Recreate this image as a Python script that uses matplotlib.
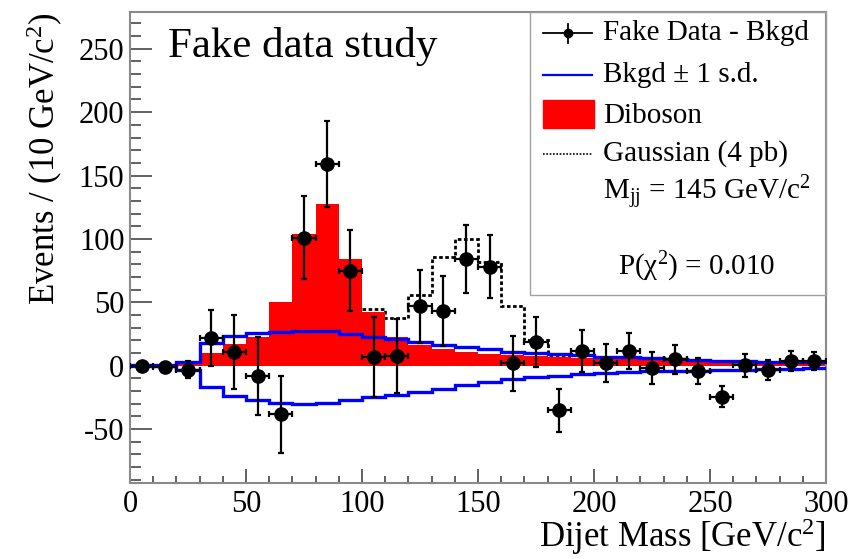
import numpy as np
import matplotlib
matplotlib.use("Agg")
import matplotlib.pyplot as plt
from matplotlib.lines import Line2D
from matplotlib.patches import Rectangle

plt.rcParams['font.family'] = ['Liberation Serif', 'DejaVu Serif']
plt.rcParams['mathtext.fontset'] = 'custom'
plt.rcParams['mathtext.rm'] = 'Liberation Serif'
plt.rcParams['mathtext.it'] = 'Liberation Serif:italic'
plt.rcParams['mathtext.bf'] = 'Liberation Serif:bold'
plt.rcParams['axes.unicode_minus'] = False

# ---------------- data ----------------
bin_edges = np.arange(0, 310, 10)
bin_centers = np.arange(5, 300, 10)

data_vals = [0, -1, -3, 21.6, 11, -8, -38.4, 101, 159.2, 75,
             7.1, 7.7, 47, 43.2, 84.2, 78.2, 1.9, 19, -35, 11.6,
             1.9, 11.6, -1.6, 5, -4.2, -24.5, 0.3, -3.4, 3.7, 3.7]
data_errs = [1.5, 2, 7, 22, 29, 30.5, 30.5, 32.6, 33.7, 32,
             31.6, 29.3, 28.7, 27.6, 26.8, 25, 21.6, 19.8, 17, 16.5,
             14.9, 13.9, 12.5, 11.7, 10, 8.4, 9, 7.9, 8, 7]

diboson = [0, 0, 3, 10, 17, 23, 50, 104, 127.5, 84,
           42, 23, 16.5, 13, 11, 9.5, 8.5, 7.5, 6.8, 6,
           5.4, 5, 4.6, 4.2, 3.8, 3.5, 3.2, 3.0, 2.8, 2.6]

gaussian_sig = [0, 0, 0, 0, 0, 0, 0, 0, 0, 0.3,
                2.5, 14.8, 39.3, 73, 88.8, 72.1, 38.6, 12.5, 1.6, 0.2,
                0, 0, 0, 0, 0, 0, 0, 0, 0, 0]

bkgd_up = [0.5, 0.5, 3.2, 17.7, 23.8, 25.6, 26.3, 27.1, 27.1, 24.8,
           22.9, 20.8, 18.5, 16.0, 14.8, 12.9, 11.0, 9.8, 8.9, 8.2,
           7.1, 6.5, 5.8, 5.0, 4.5, 4.0, 3.6, 3.2, 2.9, 2.6]
bkgd_dn = [-0.5, -0.5, -3.4, -17.0, -23.9, -27.0, -29.2, -30.2, -29.2, -27.0,
           -25.0, -22.8, -20.5, -18.0, -15.0, -12.6, -10.7, -9.2, -8.2, -6.8,
           -5.5, -4.8, -4.4, -4.1, -3.8, -3.4, -3.0, -2.7, -2.4, -2.1]

# ---------------- figure ----------------
W, H = 851, 559
fig = plt.figure(figsize=(W / 100, H / 100), dpi=100)
ax = fig.add_axes([130 / W, 1 - 483 / H, (826 - 130) / W, (483 - 12) / H])

dib = np.array(diboson)
sig_total = dib + np.array(gaussian_sig)

# Gaussian outline is visible only where it rises above the diboson histogram
lo, hi = 10, 19
ax.stairs(sig_total[lo:hi], bin_edges[lo:hi + 1], baseline=None, color='black',
          lw=2.0, linestyle=(0, (1.3, 0.9)), zorder=1.5)
ax.stairs(dib, bin_edges, fill=True, color='#ff0000', zorder=2)
ax.stairs(bkgd_up, bin_edges, baseline=None, color='#0000ff', lw=2.4, zorder=3)
ax.stairs(bkgd_dn, bin_edges, baseline=None, color='#0000ff', lw=2.4, zorder=3)
ax.errorbar(bin_centers, data_vals, yerr=data_errs, xerr=5, fmt='o',
            color='black', ms=9.5, elinewidth=1.6, capsize=2.5, capthick=1.6,
            zorder=4)

ax.set_xlim(0, 300)
ax.set_ylim(-92.5, 279)

frame_col = '#8a8a8a'
for s in ax.spines.values():
    s.set_color(frame_col)
    s.set_linewidth(1.5)

ax.set_xticks(np.arange(0, 301, 50))
ax.set_xticks(np.arange(0, 301, 10), minor=True)
ax.set_yticks(np.arange(-50, 251, 50))
ax.set_yticks(np.arange(-90, 271, 10), minor=True)
ax.tick_params(axis='both', which='both', direction='in', colors='#555555',
               labelcolor='black', width=1.3)
ax.tick_params(axis='y', which='major', length=15.5, labelsize=22, pad=4)
ax.tick_params(axis='y', which='minor', length=8)
ax.tick_params(axis='x', which='major', length=10, labelsize=22, pad=5)
ax.tick_params(axis='x', which='minor', length=5)

fig.text(826 / W, 1 - 557 / H, 'Dijet Mass [GeV/c$^{2}$]', ha='right',
         va='bottom', fontsize=25)
fig.text(45 / W, 1 - 12 / H, 'Events / (10 GeV/c$^{2}$)', ha='center',
         va='top', rotation=90, fontsize=25)

fig.text(168 / W, 1 - 47 / H, 'Fake data study', ha='left', va='center',
         fontsize=31)

# ---------------- legend ----------------
def fx(px):
    return px / W

def fy(py):
    return 1 - py / H

fig.add_artist(Rectangle((fx(530), fy(295)), fx(826) - fx(530), fy(12) - fy(295),
                         transform=fig.transFigure, fill=False,
                         edgecolor='#a0a0a0', lw=1.0))

# entry 1: data
fig.add_artist(Line2D([fx(543), fx(592)], [fy(33), fy(33)], color='black', lw=1.3,
                      transform=fig.transFigure))
fig.add_artist(Line2D([fx(567.5), fx(567.5)], [fy(24), fy(43)], color='black', lw=1.3,
                      transform=fig.transFigure))
fig.add_artist(Line2D([fx(567.5)], [fy(33)], marker='o', ms=6, color='black',
                      transform=fig.transFigure))
# entry 2: blue line
fig.add_artist(Line2D([fx(543), fx(592)], [fy(75), fy(75)], color='#0000ff', lw=1.6,
                      transform=fig.transFigure))
# entry 3: red box
fig.add_artist(Rectangle((fx(543), fy(128)), fx(594) - fx(543), fy(100) - fy(128),
                         transform=fig.transFigure, color='#ff0000'))
# entry 4: dotted
fig.add_artist(Line2D([fx(543), fx(592)], [fy(154), fy(154)], color='black', lw=1.2,
                      linestyle=(0, (1, 1)), transform=fig.transFigure))

tx = fx(603)
fig.text(tx, fy(33), 'Fake Data - Bkgd', ha='left', va='center', fontsize=21)
fig.text(tx, fy(75), 'Bkgd \u00b1 1 s.d.', ha='left', va='center', fontsize=21)
fig.text(tx, fy(116), 'Diboson', ha='left', va='center', fontsize=21)
fig.text(tx, fy(154), 'Gaussian (4 pb)', ha='left', va='center', fontsize=21)
fig.text(tx, fy(193), 'M$_{\\rm jj}$ = 145 GeV/c$^{2}$', ha='left', va='center',
         fontsize=21)
fig.text(fx(618), fy(267), 'P(\u03c7$^{2}$) = 0.010', ha='left', va='center',
         fontsize=21)

fig.savefig('out.png', dpi=100)
